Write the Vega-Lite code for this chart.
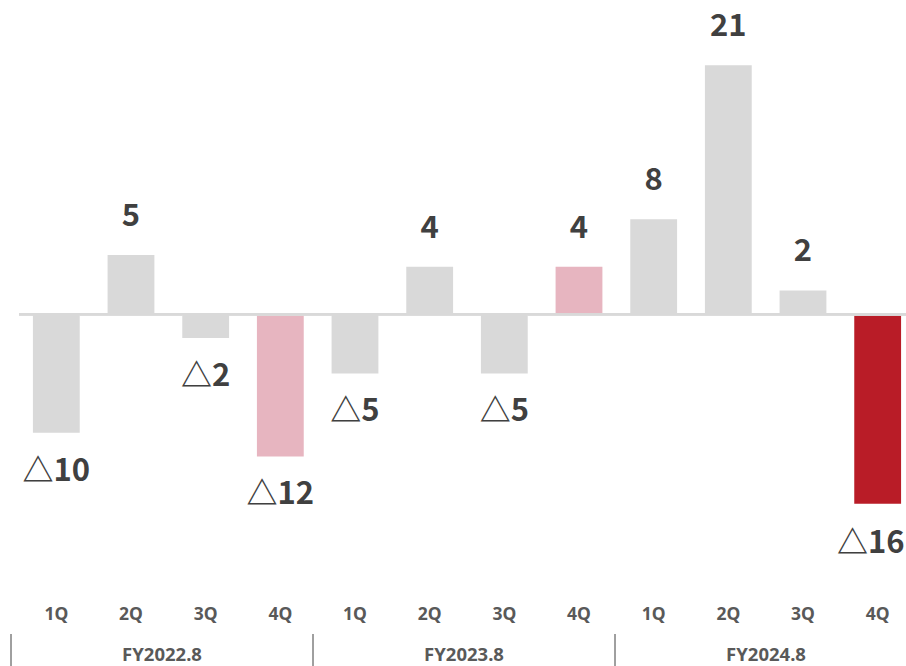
{
  "$schema": "https://vega.github.io/schema/vega-lite/v6.json",
  "autosize": {"type": "pad"},
  "padding": {"left": 10, "top": 0, "right": 0, "bottom": 0},
  "background": "white",
  "config": {
    "view": {"stroke": null},
    "font": "Noto Sans CJK JP"
  },
  "bounds": "flush",
  "spacing": 59,
  "data": {
    "values": [
      {"fy": "FY2022.8", "quarter": "1Q", "value": -10},
      {"fy": "FY2022.8", "quarter": "2Q", "value": 5},
      {"fy": "FY2022.8", "quarter": "3Q", "value": -2},
      {"fy": "FY2022.8", "quarter": "4Q", "value": -12},
      {"fy": "FY2023.8", "quarter": "1Q", "value": -5},
      {"fy": "FY2023.8", "quarter": "2Q", "value": 4},
      {"fy": "FY2023.8", "quarter": "3Q", "value": -5},
      {"fy": "FY2023.8", "quarter": "4Q", "value": 4},
      {"fy": "FY2024.8", "quarter": "1Q", "value": 8},
      {"fy": "FY2024.8", "quarter": "2Q", "value": 21},
      {"fy": "FY2024.8", "quarter": "3Q", "value": 2},
      {"fy": "FY2024.8", "quarter": "4Q", "value": -16}
    ]
  },
  "vconcat": [
    {
      "width": 896,
      "height": 575,
      "transform": [
        {"calculate": "datum.fy + ' ' + datum.quarter", "as": "period"},
        {"calculate": "datum.value < 0 ? '△' + abs(datum.value) : '' + datum.value", "as": "label"},
        {"calculate": "datum.quarter != '4Q' ? 'other' : (datum.fy == 'FY2024.8' ? 'latest' : 'fourth')", "as": "kind"}
      ],
      "encoding": {
        "x": {
          "field": "period",
          "type": "nominal",
          "sort": null,
          "scale": {"paddingInner": 0.373, "paddingOuter": 0.1865},
          "axis": {
            "title": null,
            "labelExpr": "split(datum.value, ' ')[1]",
            "ticks": false,
            "domain": false,
            "labelAngle": 0,
            "labelPadding": 39,
            "labelBaseline": "middle",
            "labelFont": "Noto Sans",
            "labelFontSize": 17.5,
            "labelFontWeight": "bold",
            "labelColor": "#595959"
          }
        },
        "y": {
          "field": "value",
          "type": "quantitative",
          "scale": {"domain": [-22, 26.5], "nice": false},
          "axis": null
        }
      },
      "layer": [
        {
          "mark": {"type": "bar"},
          "encoding": {
            "color": {
              "field": "kind",
              "type": "nominal",
              "scale": {"domain": ["other", "fourth", "latest"], "range": ["#d9d9d9", "#e7b5c0", "#b91c27"]},
              "legend": null
            }
          }
        },
        {
          "mark": {"type": "rule", "color": "#d9d9d9", "strokeWidth": 2},
          "encoding": {"x": null, "y": {"datum": 0}}
        },
        {
          "transform": [{"filter": "datum.value >= 0"}],
          "mark": {"type": "text", "baseline": "middle", "align": "center", "dy": -38, "fontSize": 31, "fontWeight": "bold", "color": "#404040"},
          "encoding": {"text": {"field": "label"}}
        },
        {
          "transform": [{"filter": "datum.value < 0 && datum.kind != 'latest'"}],
          "mark": {"type": "text", "baseline": "middle", "align": "center", "dy": 39, "fontSize": 31, "fontWeight": "bold", "color": "#404040"},
          "encoding": {"text": {"field": "label"}}
        },
        {
          "transform": [{"filter": "datum.value < 0 && datum.kind == 'latest'"}],
          "mark": {"type": "text", "baseline": "middle", "align": "right", "dx": 27, "dy": 40, "fontSize": 31, "fontWeight": "bold", "color": "#404040"},
          "encoding": {"text": {"field": "label"}}
        }
      ]
    },
    {
      "width": 896,
      "height": 42,
      "transform": [{"aggregate": [{"op": "count", "as": "quarters"}], "groupby": ["fy"]}],
      "encoding": {
        "x": {
          "field": "fy",
          "type": "nominal",
          "sort": null,
          "scale": {"range": [-8, 898], "paddingInner": 0, "paddingOuter": 0},
          "axis": null
        }
      },
      "layer": [
        {
          "mark": {"type": "rule", "color": "#404040", "strokeWidth": 1},
          "encoding": {"x": {"field": "fy", "type": "nominal", "sort": null, "bandPosition": 0}}
        },
        {
          "mark": {"type": "text", "baseline": "middle", "align": "center", "font": "Noto Sans", "fontSize": 18.5, "fontWeight": "bold", "color": "#595959"},
          "encoding": {"text": {"field": "fy"}}
        }
      ]
    }
  ]
}
